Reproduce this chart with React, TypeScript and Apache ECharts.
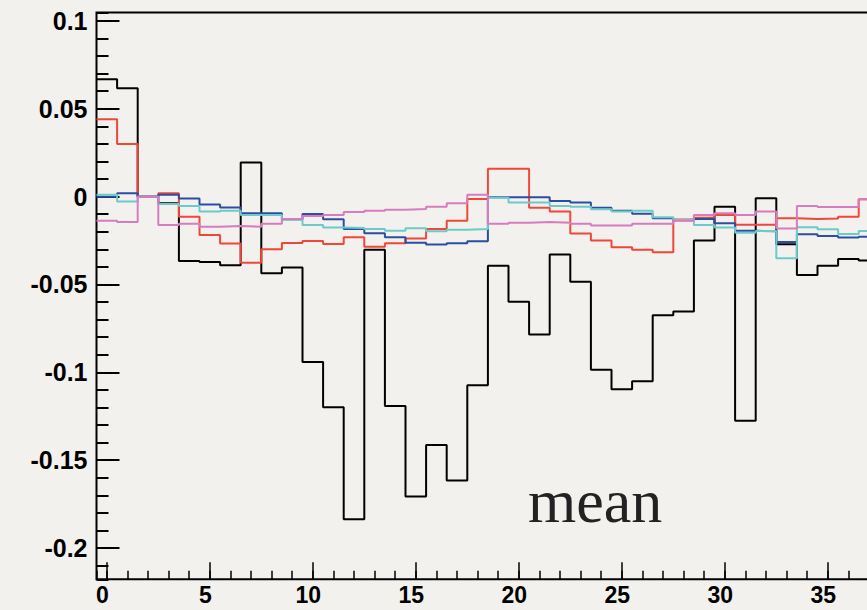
import React, { useEffect, useRef } from "react";
import * as echarts from "echarts";

// bin centres (x) of the histograms
const binCenters = [
  0, 1, 2, 3, 4, 5, 6, 7, 8, 9, 10, 11, 12, 13, 14, 15, 16, 17, 18, 19,
  20, 21, 22, 23, 24, 25, 26, 27, 28, 29, 30, 31, 32, 33, 34, 35, 36, 37,
];

const blackValues = [
  0.0668, 0.0617, 0, -0.0038, -0.0366, -0.0372, -0.039, 0.0194, -0.0436, -0.0404,
  -0.0941, -0.1199, -0.1836, -0.0303, -0.1191, -0.1707, -0.1413, -0.1616, -0.1074, -0.0394,
  -0.0599, -0.0785, -0.033, -0.0484, -0.0986, -0.1096, -0.1051, -0.0675, -0.0654, -0.025,
  -0.0057, -0.1275, -0.0009, -0.0271, -0.0446, -0.0393, -0.0355, -0.0364,
];

const redValues = [
  0.044, 0.03, 0, 0.0019, -0.0114, -0.0218, -0.0267, -0.0376, -0.03, -0.0264,
  -0.0252, -0.0269, -0.0231, -0.0285, -0.0265, -0.0239, -0.0184, -0.0137, -0.0013, 0.0158,
  0.0158, -0.0063, -0.0085, -0.021, -0.025, -0.0288, -0.0303, -0.0317, -0.013, -0.012,
  -0.0105, -0.016, -0.016, -0.0123, -0.0127, -0.0125, -0.0114, -0.0015,
];

const blueValues = [
  0.0, 0.0019, 0, 0.001, -0.0011, -0.0045, -0.0062, -0.0095, -0.0095, -0.0129,
  -0.0099, -0.0129, -0.0184, -0.0209, -0.0231, -0.0262, -0.0273, -0.0265, -0.0254, -0.0004,
  -0.0004, -0.0004, -0.0025, -0.0034, -0.0063, -0.008, -0.0098, -0.0123, -0.0135, -0.0127,
  -0.0152, -0.0194, -0.0197, -0.0258, -0.0214, -0.0224, -0.0233, -0.0228,
];

const cyanValues = [
  0.001, -0.0028, 0, -0.0042, -0.0053, -0.0085, -0.008, -0.0104, -0.0104, -0.0131,
  -0.0161, -0.0176, -0.0178, -0.0184, -0.0194, -0.018, -0.0197, -0.0188, -0.0184, -0.0006,
  -0.0034, -0.0034, -0.0053, -0.0058, -0.0072, -0.0085, -0.008, -0.0117, -0.0133, -0.0161,
  -0.0176, -0.0205, -0.0196, -0.0351, -0.0174, -0.0186, -0.0212, -0.0195,
];

const pinkValues = [
  -0.0137, -0.0144, 0, -0.0161, -0.0155, -0.0171, -0.0167, -0.0171, -0.0155, -0.0127,
  -0.011, -0.0104, -0.0087, -0.0081, -0.0074, -0.007, -0.0057, -0.0038, 0.001, -0.0155,
  -0.0148, -0.0144, -0.0148, -0.0155, -0.0165, -0.0165, -0.0155, -0.0155, -0.0137, -0.0104,
  -0.0095, -0.0104, -0.0085, -0.0182, -0.0053, -0.0059, -0.0059, -0.0015,
];

const xTickValues = [0, 5, 10, 15, 20, 25, 30, 35];
const xTickLabels = ["0", "5", "10", "15", "20", "25", "30", "35"];
const yTickValues = [-0.2, -0.15, -0.1, -0.05, 0, 0.05, 0.1];
const yTickLabels = ["-0.2", "-0.15", "-0.1", "-0.05", "0", "0.05", "0.1"];

const annotation = "mean";

const BG = "#f2f1ed";

function lookup(values: number[], labels: string[]) {
  return (v: number) => {
    for (let i = 0; i < values.length; i++) {
      if (Math.abs(values[i] - v) < 1e-6) return labels[i];
    }
    return "";
  };
}

function stepData(values: number[]) {
  const pts: number[][] = binCenters.map((c, i) => [c - 0.5, values[i]]);
  const last = binCenters.length - 1;
  pts.push([binCenters[last] + 0.5, values[last]]);
  return pts;
}

const seriesDefs = [
  { name: "black", color: "#000000", values: blackValues },
  { name: "red", color: "#f0473b", values: redValues },
  { name: "blue", color: "#2c4ea2", values: blueValues },
  { name: "cyan", color: "#6ccaca", values: cyanValues },
  { name: "pink", color: "#d87bbf", values: pinkValues },
];

export default function App() {
  const ref = useRef<HTMLDivElement>(null);

  useEffect(() => {
    if (!ref.current) return;
    const chart = echarts.init(ref.current, undefined, { renderer: "svg" });
    const xMin = -0.5;
    const xMax = 37;
    const yMin = -0.2178;
    const yMax = 0.1048;
    const fontFamily = "Liberation Sans, Arial, sans-serif";
    const option: any = {
      animation: false,
      backgroundColor: BG,
      grid: {
        left: 96.5,
        top: 12.5,
        width: 772.5,
        height: 566.8,
        show: true,
        borderColor: "#000",
        borderWidth: 2,
        backgroundColor: "transparent",
        containLabel: false,
        outerBoundsMode: "none",
      },
      xAxis: [
        {
          type: "value",
          position: "bottom",
          offset: 0,
          min: xMin,
          max: xMax,
          minInterval: 5,
          maxInterval: 5,
          splitNumber: 8,
          axisLine: { show: false, onZero: false },
          axisTick: { show: true, inside: true, length: 17, lineStyle: { color: "#000", width: 1.5 } },
          axisLabel: {
            fontSize: 23,
            fontWeight: "bold",
            fontFamily,
            color: "#000",
            showMinLabel: false,
            showMaxLabel: false,
            margin: 16,
            verticalAlign: "middle",
            lineHeight: 23,
            padding: [0, 9, 0, 0],
            formatter: lookup(xTickValues, xTickLabels),
          },
          splitLine: { show: false },
        },
        {
          type: "value",
          position: "bottom",
          offset: 0,
          min: xMin,
          max: xMax,
          minInterval: 1,
          maxInterval: 1,
          splitNumber: 37,
          axisLine: { show: false, onZero: false },
          axisTick: { show: true, inside: true, length: 8.5, lineStyle: { color: "#000", width: 1.5 } },
          axisLabel: { show: false },
          splitLine: { show: false },
        },
      ],
      yAxis: [
        {
          type: "value",
          position: "left",
          offset: 0,
          min: yMin,
          max: yMax,
          minInterval: 0.05,
          maxInterval: 0.05,
          splitNumber: 6,
          axisLine: { show: false, onZero: false },
          axisTick: { show: true, inside: true, length: 23, lineStyle: { color: "#000", width: 2 } },
          axisLabel: {
            fontSize: 25,
            fontWeight: "bold",
            fontFamily,
            color: "#000",
            showMinLabel: false,
            showMaxLabel: false,
            margin: 9,
            formatter: lookup(yTickValues, yTickLabels),
          },
          splitLine: { show: false },
        },
        {
          type: "value",
          position: "left",
          offset: 0,
          min: yMin,
          max: yMax,
          minInterval: 0.01,
          maxInterval: 0.01,
          splitNumber: 32,
          axisLine: { show: false, onZero: false },
          axisTick: { show: true, inside: true, length: 12, lineStyle: { color: "#000", width: 2 } },
          axisLabel: { show: false },
          splitLine: { show: false },
        },
      ],
      series: seriesDefs.map((s, i) => ({
        name: s.name,
        type: "line",
        xAxisIndex: 0,
        yAxisIndex: 0,
        step: "end",
        symbol: "none",
        showSymbol: false,
        silent: true,
        clip: true,
        z: 2 + i,
        lineStyle: { color: s.color, width: 2 },
        data: stepData(s.values),
      })),
      graphic: [
        {
          type: "text",
          left: 528,
          top: 470,
          z: 100,
          style: {
            text: annotation,
            fill: "#222222",
            fontSize: 62,
            fontFamily: "Liberation Serif, Times New Roman, serif",
          },
        },
      ],
    };
    chart.setOption(option);
    return () => chart.dispose();
  }, []);

  return (
    <div
      style={{
        position: "fixed",
        left: 0,
        top: 0,
        width: 867,
        height: 610,
        overflow: "hidden",
        background: BG,
      }}
    >
      <div ref={ref} style={{ width: 880, height: 610 }} />
    </div>
  );
}
